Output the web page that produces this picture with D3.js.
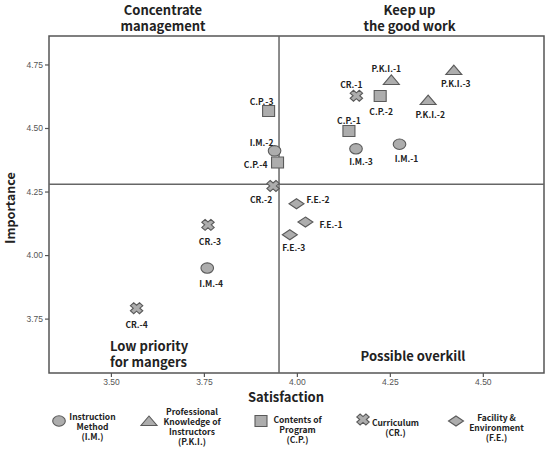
<!DOCTYPE html>
<html>
<head>
<meta charset="utf-8">
<script src="https://cdn.jsdelivr.net/npm/d3@7"></script>
<style>
  html, body { margin: 0; padding: 0; background: #fff; }
  svg { display: block; }
  text { font-family: "Noto Sans CJK KR", "Noto Sans", sans-serif; }
</style>
</head>
<body>
<svg id="chart" width="549" height="449"></svg>
<script>
// ---------------- data ----------------
const pointLabels = ["I.M.-1","I.M.-2","I.M.-3","I.M.-4",
  "P.K.I.-1","P.K.I.-2","P.K.I.-3",
  "C.P.-1","C.P.-2","C.P.-3","C.P.-4",
  "CR.-1","CR.-2","CR.-3","CR.-4",
  "F.E.-1","F.E.-2","F.E.-3"];
const pointGroups = ["IM","IM","IM","IM","PKI","PKI","PKI","CP","CP","CP","CP","CR","CR","CR","CR","FE","FE","FE"];
const satisfaction = [4.276, 3.940, 4.159, 3.759, 4.254, 4.353, 4.422, 4.140, 4.224, 3.924, 3.948, 4.160, 3.936, 3.761, 3.569, 4.023, 3.999, 3.981];
const importance   = [4.436, 4.410, 4.418, 3.949, 4.689, 4.610, 4.728, 4.488, 4.626, 4.567, 4.364, 4.627, 4.272, 4.119, 3.791, 4.130, 4.202, 4.080];
const meanSatisfaction = 3.952;
const meanImportance = 4.279;
const xTicks = [3.50, 3.75, 4.00, 4.25, 4.50];
const yTicks = [3.75, 4.00, 4.25, 4.50, 4.75];
const legendGroups = ["IM","PKI","CP","CR","FE"];
const legendNames = [
  ["Instruction","Method","(I.M.)"],
  ["Professional","Knowledge of","Instructors","(P.K.I.)"],
  ["Contents of","Program","(C.P.)"],
  ["Curriculum","(CR.)"],
  ["Facility &","Environment","(F.E.)"]
];
const quadrantNames = [["Concentrate","management"],["Keep up","the good work"],["Low priority","for mangers"],["Possible overkill"]];

// ---------------- layout (styling, not data) ----------------
// label offsets relative to each marker: [dx, dy, anchor]
const labelOffsets = [
  [7,14,"middle"],[-13,-9,"middle"],[5,12,"middle"],[4,15,"middle"],
  [-5,-12,"middle"],[2,14,"middle"],[2,13,"middle"],
  [0,-11,"middle"],[1,15,"middle"],[-7,-10,"middle"],[-10,1,"end"],
  [-5,-12,"middle"],[-12,13,"middle"],[2,16,"middle"],[0,16,"middle"],
  [14,2,"start"],[10,-5,"start"],[4,12,"middle"]
];

const svg = d3.select("#chart");
const L = 49, R = 544, T = 36, B = 373;
const x = d3.scaleLinear().domain([3.3335, 4.6645]).range([L, R]);
const y = d3.scaleLinear().domain([3.536, 4.862]).range([B, T]);

const fillC = "#adadad", strokeC = "#5a5a5a";

function shapePath(g) {
  if (g === "IM") {
    const rx = 6.3, ry = 5.2;
    return `M${-rx},0 A${rx},${ry} 0 1,0 ${rx},0 A${rx},${ry} 0 1,0 ${-rx},0 Z`;
  }
  if (g === "PKI") return "M0,-5 L8,4.5 L-8,4.5 Z";
  if (g === "CP") return "M-6,-5.5 L6,-5.5 L6,5.5 L-6,5.5 Z";
  if (g === "FE") return "M0,-5 L7.5,0 L0,5 L-7.5,0 Z";
  if (g === "CR") {
    const a = 6.3, t = 2.3;
    const pts = [[-t,-a],[t,-a],[t,-t],[a,-t],[a,t],[t,t],[t,a],[-t,a],[-t,t],[-a,t],[-a,-t],[-t,-t]];
    const r = pts.map(([px,py]) => [((px - py) / Math.SQRT2) * 1.02, ((px + py) / Math.SQRT2) * 0.9]);
    return "M" + r.map(p => p[0].toFixed(2) + "," + p[1].toFixed(2)).join(" L") + " Z";
  }
}

// frame
svg.append("rect").attr("x", L).attr("y", T).attr("width", R - L).attr("height", B - T)
  .attr("fill", "none").attr("stroke", "#555").attr("stroke-width", 1.5);

// mean lines
svg.append("line").attr("x1", x(meanSatisfaction)).attr("x2", x(meanSatisfaction))
  .attr("y1", T).attr("y2", B).attr("stroke", "#666").attr("stroke-width", 1.5);
svg.append("line").attr("x1", L).attr("x2", R)
  .attr("y1", y(meanImportance)).attr("y2", y(meanImportance)).attr("stroke", "#666").attr("stroke-width", 1.5);

// axes
const xAxis = svg.append("g").attr("transform", `translate(0,${B})`)
  .call(d3.axisBottom(x).tickValues(xTicks).tickFormat(d3.format(".2f")).tickSize(4).tickPadding(2));
const yAxis = svg.append("g").attr("transform", `translate(${L},0)`)
  .call(d3.axisLeft(y).tickValues(yTicks).tickFormat(d3.format(".2f")).tickSize(4).tickPadding(2));
[xAxis, yAxis].forEach(a => {
  a.select(".domain").remove();
  a.selectAll(".tick line").attr("stroke", "#555").attr("stroke-width", 1.2);
  a.selectAll(".tick text").attr("fill", "#555").attr("font-size", 8.5)
    .style("font-family", "'Liberation Sans', Arial, sans-serif");
});

// axis titles
svg.append("text").attr("x", 286).attr("y", 402).attr("text-anchor", "middle")
  .attr("font-size", 13).attr("font-weight", "bold").attr("fill", "#222").text("Satisfaction");
svg.append("text").attr("transform", "translate(9,208) rotate(-90)").attr("text-anchor", "middle")
  .attr("dominant-baseline", "central")
  .attr("font-size", 12.5).attr("font-weight", "bold").attr("fill", "#222").text("Importance");

// quadrant titles
function multi(lines, cx, cy, lh, size, anchor) {
  const t = svg.append("text").attr("text-anchor", anchor || "middle")
    .attr("font-size", size).attr("font-weight", "bold").attr("fill", "#222");
  const n = lines.length;
  lines.forEach((s, i) => {
    t.append("tspan").attr("x", cx).attr("y", cy + (i - (n - 1) / 2) * lh)
      .attr("dominant-baseline", "central").text(s);
  });
  return t;
}
multi(quadrantNames[0], 163, 17.5, 15.5, 13);
multi(quadrantNames[1], 409.5, 17.5, 15.5, 13);
multi(quadrantNames[2], 110, 353.5, 15.5, 13, "start");
multi(quadrantNames[3], 413, 355, 15, 13);

// points
const pts = svg.append("g");
satisfaction.forEach((s, i) => {
  const cx = x(s), cy = y(importance[i]);
  pts.append("path").attr("d", shapePath(pointGroups[i]))
    .attr("transform", `translate(${cx},${cy})`)
    .attr("fill", fillC).attr("stroke", strokeC).attr("stroke-width", 1.1);
  const o = labelOffsets[i];
  pts.append("text").attr("x", cx + o[0]).attr("y", cy + o[1])
    .attr("text-anchor", o[2]).attr("dominant-baseline", "central")
    .attr("font-size", 8.5).attr("font-weight", "bold").attr("fill", "#222")
    .text(pointLabels[i]);
});

// legend
const legendShapeX = [59, 149, 261, 363, 456];
const legendShapeY = [421, 421, 421, 419.5, 421];
const legendTextX = [92.5, 192, 297.5, 395.5, 496.5];
const legendTextY = [426, 426, 429, 427.3, 426.7];
const lg = svg.append("g");
legendGroups.forEach((g, i) => {
  lg.append("path").attr("d", shapePath(g)).attr("transform", `translate(${legendShapeX[i]},${legendShapeY[i]})`)
    .attr("fill", fillC).attr("stroke", strokeC).attr("stroke-width", 1.1);
  const lines = legendNames[i];
  const t = lg.append("text").attr("text-anchor", "middle")
    .attr("font-size", 8.5).attr("font-weight", "bold").attr("fill", "#222");
  const n = lines.length;
  lines.forEach((s, k) => {
    t.append("tspan").attr("x", legendTextX[i]).attr("y", legendTextY[i] + (k - (n - 1) / 2) * 10.2)
      .attr("dominant-baseline", "central").text(s);
  });
});
</script>
</body>
</html>
